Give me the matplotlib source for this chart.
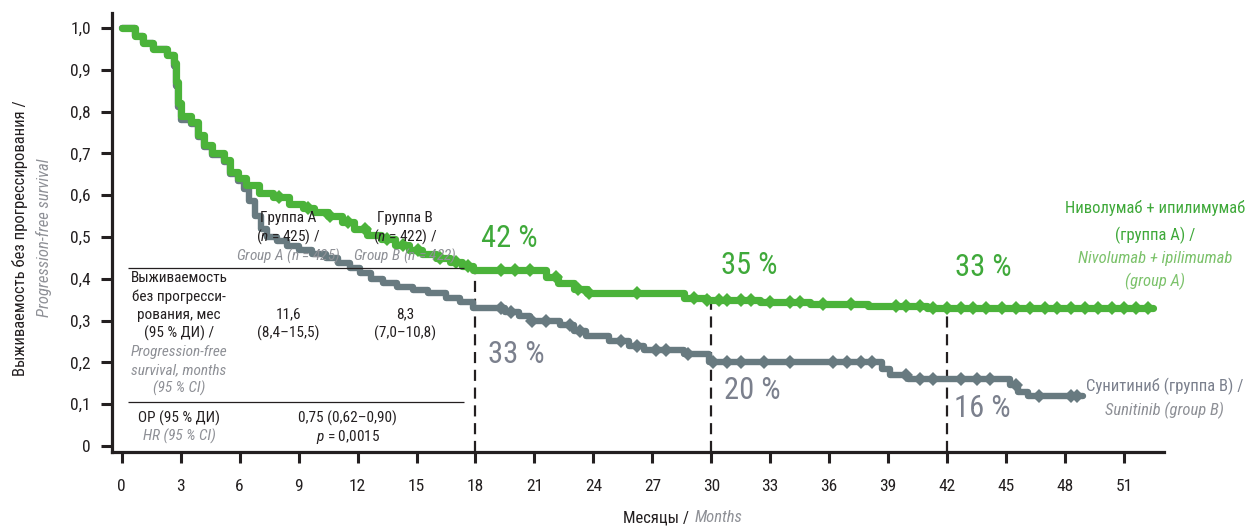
import numpy as np
import matplotlib
matplotlib.use("Agg")
import matplotlib.pyplot as plt
from matplotlib import font_manager as fm

# ---------------------------------------------------------------- data
# Kaplan-Meier step points: (month, progression-free survival)
months_a = [0, 0.7, 1.1, 1.6, 2.3, 2.65, 2.75, 2.85, 3.0, 3.5,
            3.9, 4.2, 4.6, 5.2, 5.5, 5.9, 6.3, 7.0, 7.7, 8.5,
            9.2, 9.8, 10.5, 11.2, 11.8, 12.5, 13.2, 13.9, 14.6, 15.3,
            16.0, 16.7, 17.3, 17.9, 21.6, 22.2, 23.0, 23.7, 28.6, 29.8,
            32.5, 35.0, 38.0, 41.0]
pfs_a = [1.0, 0.98, 0.965, 0.95, 0.935, 0.915, 0.87, 0.82, 0.79, 0.775,
         0.745, 0.72, 0.70, 0.685, 0.655, 0.64, 0.625, 0.605, 0.595, 0.58,
         0.57, 0.56, 0.55, 0.535, 0.52, 0.505, 0.495, 0.48, 0.47, 0.46,
         0.45, 0.44, 0.43, 0.42, 0.405, 0.39, 0.375, 0.365, 0.355, 0.35,
         0.345, 0.34, 0.335, 0.33]
last_a = 52.5

months_b = [0, 0.7, 1.1, 1.6, 2.3, 2.65, 2.75, 2.85, 3.0, 3.5,
            3.9, 4.2, 4.6, 5.2, 5.5, 5.9, 6.2, 6.5, 6.8, 7.1,
            7.4, 7.9, 8.4, 9.0, 9.7, 10.4, 11.0, 11.6, 12.1, 12.7,
            13.3, 14.0, 14.8, 15.6, 16.5, 17.2, 17.9, 19.5, 20.2, 20.8,
            22.3, 23.0, 23.6, 24.8, 25.8, 26.6, 28.6, 29.9, 38.7, 39.1,
            40.0, 45.2, 45.6, 46.1]
pfs_b = [1.0, 0.98, 0.965, 0.95, 0.935, 0.91, 0.86, 0.81, 0.78, 0.77,
         0.74, 0.715, 0.695, 0.68, 0.65, 0.635, 0.615, 0.585, 0.55, 0.52,
         0.50, 0.49, 0.478, 0.47, 0.46, 0.45, 0.438, 0.425, 0.413, 0.40,
         0.39, 0.38, 0.372, 0.365, 0.355, 0.345, 0.33, 0.32, 0.31, 0.30,
         0.29, 0.275, 0.262, 0.25, 0.24, 0.23, 0.22, 0.20, 0.185, 0.17,
         0.16, 0.145, 0.13, 0.12]
last_b = 48.9

# censoring times
censor_a = [8.0, 9.5, 10.6, 11.5, 12.4, 13.5, 14.3, 15.1, 16.2, 17.0, 17.6,
            19.3, 20.0, 20.8, 22.1, 23.2, 23.8, 26.2, 29.1, 29.8, 30.4,
            30.8, 31.5, 32.0, 33.0, 34.0, 34.5, 35.7, 37.1, 39.4, 39.9,
            40.6, 41.3, 42.0, 42.7, 43.3, 44.0, 44.8, 45.5, 46.2, 47.0,
            47.6, 48.3, 49.0, 49.7, 50.4, 51.0, 51.6, 52.2]
censor_b = [19.3, 19.8, 20.9, 21.6, 22.8, 23.3, 25.4, 26.2, 27.2, 27.7,
            28.8, 30.1, 30.8, 31.5, 32.7, 34.0, 36.2, 36.9, 37.6, 38.2,
            39.9, 40.6, 41.3, 42.7, 43.5, 44.2, 45.5, 46.7, 48.3, 48.6]

landmarks = [18, 30, 42]

x_ticks = [0, 3, 6, 9, 12, 15, 18, 21, 24, 27, 30, 33, 36, 39, 42, 45, 48, 51]
y_ticks = [0, 0.1, 0.2, 0.3, 0.4, 0.5, 0.6, 0.7, 0.8, 0.9, 1.0]
y_tick_labels = ["0", "0,1", "0,2", "0,3", "0,4", "0,5", "0,6", "0,7", "0,8", "0,9", "1,0"]

median_a = ["11,6", "(8,4–15,5)"]
median_b = ["8,3", "(7,0–10,8)"]
hazard_ratio = "0,75 (0,62–0,90)"
p_value = "0,0015"

# ---------------------------------------------------------------- style
names = {f.name for f in fm.fontManager.ttflist}
FONT = next((n for n in ["Liberation Sans Narrow", "Roboto Condensed",
                         "Noto Sans Condensed", "Open Sans Condensed",
                         "DejaVu Sans Condensed", "Liberation Sans"]
             if n in names), "DejaVu Sans")
plt.rcParams["font.family"] = [FONT, "DejaVu Sans"]
plt.rcParams["mathtext.fontset"] = "custom"
plt.rcParams["mathtext.rm"] = FONT
plt.rcParams["mathtext.it"] = FONT + ":italic"

INK = "#231f20"
GREEN_LINE = "#4bb33a"
GREEN_TXT = "#3fa93a"
GREEN_IT = "#7cc26b"
GRAY_LINE = "#687a80"
GRAY_TXT = "#7b808d"
GRAY_IT = "#8e9096"

fig = plt.figure(figsize=(12.51, 5.26), dpi=100)
ax = fig.add_axes([0.0893, 0.1413, 0.8412, 0.8334])
ax.set_xlim(-0.51, 53.04)
ax.set_ylim(-0.0136, 1.035)

for s in ("top", "right"):
    ax.spines[s].set_visible(False)
for s in ("left", "bottom"):
    ax.spines[s].set_linewidth(2.3)
    ax.spines[s].set_color(INK)

ax.set_xticks(x_ticks)
ax.set_xticklabels([str(v) for v in x_ticks])
ax.set_yticks(y_ticks)
ax.set_yticklabels(y_tick_labels)
ax.tick_params(axis="both", direction="out", length=8, width=2.2,
               color=INK, labelcolor=INK, labelsize=12.5)
ax.tick_params(axis="x", pad=12)
ax.tick_params(axis="y", pad=7)


def surv_at(t, times, vals):
    i = np.searchsorted(times, t, side="right") - 1
    return vals[max(i, 0)]


def step_xy(times, vals, last):
    return list(times) + [last], list(vals) + [vals[-1]]


# ---------------------------------------------------------------- curves
xb, yb = step_xy(months_b, pfs_b, last_b)
ax.plot(xb, yb, drawstyle="steps-post", color=GRAY_LINE, lw=4.6,
        solid_joinstyle="round", solid_capstyle="round", zorder=3)
ax.plot(censor_b, [surv_at(t, months_b, pfs_b) for t in censor_b],
        ls="none", marker="D", ms=7, color=GRAY_LINE, mew=0, zorder=3)

xa, ya = step_xy(months_a, pfs_a, last_a)
ax.plot(xa, ya, drawstyle="steps-post", color=GREEN_LINE, lw=5.2,
        solid_joinstyle="round", solid_capstyle="round", zorder=4)
ax.plot(censor_a, [surv_at(t, months_a, pfs_a) for t in censor_a],
        ls="none", marker="D", ms=7.5, color=GREEN_LINE, mew=0, zorder=4)

# landmark guides and rates
ybot = ax.get_ylim()[0]
a_offsets = [(0.3, 0.077), (0.5, 0.081), (0.4, 0.097)]
b_offsets = [(0.65, -0.11), (0.65, -0.068), (0.35, -0.071)]
for m, (dxa, dya), (dxb, dyb) in zip(landmarks, a_offsets, b_offsets):
    va_ = surv_at(m, months_a, pfs_a)
    vb_ = surv_at(m, months_b, pfs_b)
    ax.vlines(m, ybot, va_, colors=INK, lw=1.6, linestyles=(0, (5, 3)), zorder=2)
    ax.text(m + dxa, va_ + dya, f"{round(va_ * 100)} %", color=GREEN_TXT,
            fontsize=22, ha="left", va="center")
    ax.text(m + dxb, vb_ + dyb, f"{round(vb_ * 100)} %", color=GRAY_TXT,
            fontsize=22, ha="left", va="center")

# ---------------------------------------------------------------- series labels
ax.text(52.6, 0.569, "Ниволумаб + ипилимумаб", color=GREEN_TXT, fontsize=12,
        ha="center", va="center")
ax.text(52.6, 0.505, "(группа A) /", color=GREEN_TXT, fontsize=12,
        ha="center", va="center")
ax.text(52.6, 0.449, "Nivolumab + ipilimumab", color=GREEN_IT, fontsize=12,
        style="italic", ha="center", va="center")
ax.text(52.6, 0.393, "(group A)", color=GREEN_IT, fontsize=12,
        style="italic", ha="center", va="center")
ax.text(53.05, 0.142, "Сунитиниб (группа B) /", color=GRAY_TXT, fontsize=12,
        ha="center", va="center")
ax.text(53.05, 0.084, "Sunitinib (group B)", color=GRAY_IT, fontsize=12,
        style="italic", ha="center", va="center")

# ---------------------------------------------------------------- summary table
TS = 11
col_l, col_a, col_b, col_ab = 2.92, 8.48, 14.42, 11.49
ax.hlines([0.425, 0.1045], 0.305, 17.44, colors=INK, lw=0.9, zorder=5)

for x, g, n in ((col_a, "A", "425"), (col_b, "B", "422")):
    ax.text(x, 0.545, f"Группа {g}", fontsize=TS, color=INK, ha="center", va="center", zorder=6)
    ax.text(x, 0.501, "($\\mathit{n}$ = " + n + ") /", fontsize=TS, color=INK,
            ha="center", va="center", zorder=6)
    ax.text(x, 0.455, f"Group {g} ($\\mathit{{n}}$ = {n})", fontsize=TS, color=GRAY_IT,
            style="italic", ha="center", va="center", zorder=6)

row1_black = ["Выживаемость", "без прогресси-", "рования, мес", "(95 % ДИ) /"]
row1_gray = ["Progression-free", "survival, months", "(95 % CI)"]
y0, dy = 0.401, 0.0439
for i, s in enumerate(row1_black):
    ax.text(col_l, y0 - i * dy, s, fontsize=TS, color=INK, ha="center", va="center")
for i, s in enumerate(row1_gray):
    ax.text(col_l, y0 - (i + 4) * dy, s, fontsize=TS, color=GRAY_IT,
            style="italic", ha="center", va="center")

for x, vals in ((col_a, median_a), (col_b, median_b)):
    ax.text(x, 0.316, vals[0], fontsize=TS, color=INK, ha="center", va="center")
    ax.text(x, 0.270, vals[1], fontsize=TS, color=INK, ha="center", va="center")

ax.text(col_l, 0.066, "ОР (95 % ДИ)", fontsize=TS, color=INK, ha="center", va="center")
ax.text(col_l, 0.022, "HR (95 % CI)", fontsize=TS, color=GRAY_IT, style="italic",
        ha="center", va="center")
ax.text(col_ab, 0.066, hazard_ratio, fontsize=TS, color=INK, ha="center", va="center")
ax.text(col_ab, 0.022, "$\\mathit{p}$ = " + p_value, fontsize=TS, color=INK,
        ha="center", va="center")

# ---------------------------------------------------------------- axis titles
fig.text(20 / 1251, 1 - 238 / 526, "Выживаемость без прогрессирования /",
         rotation=90, fontsize=12, color=INK, ha="center", va="center")
fig.text(44 / 1251, 1 - 238 / 526, "Progression-free survival",
         rotation=90, fontsize=12, color=GRAY_IT, style="italic",
         ha="center", va="center")
fig.text(689 / 1251, 1 - 518 / 526, "Месяцы /", fontsize=12, color=INK,
         ha="right", va="center")
fig.text(695 / 1251, 1 - 518 / 526, "Months", fontsize=12, color=GRAY_IT,
         style="italic", ha="left", va="center")

fig.savefig("out.png", dpi=100, facecolor="white")
